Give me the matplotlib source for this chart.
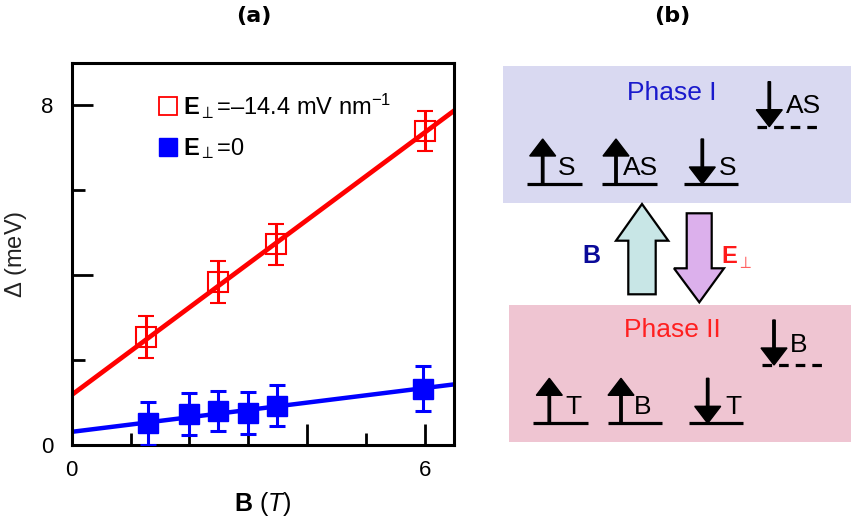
import numpy as np
import matplotlib
matplotlib.use('Agg')
import matplotlib.pyplot as plt
from matplotlib.lines import Line2D
from matplotlib.patches import Rectangle, Polygon

plt.rcParams['font.family'] = ['Liberation Sans', 'DejaVu Sans']
plt.rcParams['mathtext.fontset'] = 'custom'
plt.rcParams['mathtext.rm'] = 'Liberation Sans'
plt.rcParams['mathtext.bf'] = 'Liberation Sans:bold'
plt.rcParams['mathtext.it'] = 'Liberation Sans:italic'

# panel (a) data
red_B = [1.27, 2.49, 3.48, 6.0]
red_D = [2.55, 3.84, 4.73, 7.40]
red_err = [0.5, 0.5, 0.48, 0.48]
blue_B = [1.29, 1.99, 2.49, 3.0, 3.49, 5.98]
blue_D = [0.51, 0.73, 0.81, 0.76, 0.93, 1.33]
blue_err = [0.5, 0.5, 0.47, 0.5, 0.48, 0.53]
# linear fits (intercept, slope)
red_fit = (1.18, 1.03)
blue_fit = (0.31, 0.172)
B_fit = np.array([0, 6.5])

red = '#ff0000'
blue = '#0000ff'

fig = plt.figure(figsize=(8.51, 5.22), dpi=100)
W, H = 851, 522

ax = fig.add_axes([71.7/W, (H-445)/H, (454-71.7)/W, (445-63)/H])
ax.plot(B_fit, red_fit[0] + red_fit[1]*B_fit, color=red, lw=3.4, zorder=2)
ax.plot(B_fit, blue_fit[0] + blue_fit[1]*B_fit, color=blue, lw=3.2, zorder=2)
ax.errorbar(red_B, red_D, yerr=red_err, fmt='s', ms=14, mfc='none', mec=red, mew=1.5,
            ecolor=red, elinewidth=2.2, capsize=6, capthick=2.2, zorder=3)
ax.errorbar(blue_B, blue_D, yerr=blue_err, fmt='s', ms=15, mfc=blue, mec=blue,
            ecolor=blue, elinewidth=2.2, capsize=6, capthick=2.2, zorder=3)
ax.set_xlim(0, 6.5)
ax.set_ylim(0, 9)
ax.set_xticks([0, 4, 6])
ax.set_xticklabels(['0', '', '6'])
ax.set_xticks([1, 2, 3, 5], minor=True)
ax.set_yticks([0, 4, 8])
ax.set_yticklabels(['0', '', '8'])
ax.set_yticks([2, 6], minor=True)
ax.tick_params(which='both', direction='in', width=2, labelsize=16)
ax.tick_params(which='major', length=15)
ax.tick_params(which='minor', length=9)
ax.tick_params(axis='y', pad=13)
ax.tick_params(axis='x', pad=11)
for s in ax.spines.values():
    s.set_linewidth(2.2)
ax.set_xlabel(r'$\mathbf{B}$ ($\mathit{T}$)', fontsize=18, labelpad=6)
ax.set_ylabel(r'$\mathit{\Delta}$ (meV)', fontsize=17, labelpad=9, color='#222222')

h1 = Line2D([], [], ls='none', marker='s', ms=13, mfc='none', mec=red, mew=1.3)
h2 = Line2D([], [], ls='none', marker='s', ms=13, mfc=blue, mec=blue)
ax.legend([h1, h2], [r'$\mathbf{E}_{\perp}$=–14.4 mV nm$^{-1}$', r'$\mathbf{E}_{\perp}$=0'],
          loc='upper left', bbox_to_anchor=(0.23, 0.925), frameon=False, fontsize=17,
          handlelength=0.7, handletextpad=0.3, labelspacing=0.65, borderpad=0, borderaxespad=0)

fig.text(254/W, 1-16/H, '(a)', fontsize=16, fontweight='bold', ha='center', va='center',
         family='DejaVu Sans')
fig.text(672/W, 1-16/H, '(b)', fontsize=16, fontweight='bold', ha='center', va='center',
         family='DejaVu Sans')

# panel (b) schematic, in pixel units
bx = fig.add_axes([490/W, 0, (W-490)/W, 1])
bx.set_xlim(490, W)
bx.set_ylim(H, 0)
bx.axis('off')

bx.add_patch(Rectangle((503, 66), 348, 137, color='#d9d9f1', lw=0))
bx.add_patch(Rectangle((509, 305), 342, 137, color='#efc5d2', lw=0))

bx.text(672, 100, 'Phase I', color='#1a1acc', fontsize=19, ha='center', va='baseline')
bx.text(672, 337, 'Phase II', color='#ff2020', fontsize=19, ha='center', va='baseline')


def level(x0, x1, y, ax_x, up, label, lx, ly, dashed=False):
    bx.plot([x0, x1], [y, y], color='k', lw=2.3, ls=(0, (3, 2.2)) if dashed else '-',
            solid_capstyle='butt')
    if up:
        bx.arrow(ax_x, y, 0, -45, width=2.4, head_width=26, head_length=17,
                 length_includes_head=True, fc='k', ec='k')
    else:
        bx.arrow(ax_x, y - 45, 0, 45, width=2.4, head_width=26, head_length=17,
                 length_includes_head=True, fc='k', ec='k')
    bx.text(lx, ly, label, fontsize=19, ha='left', va='baseline')


# Phase I levels
level(527, 582, 184, 542.7, True, 'S', 558, 175)
level(602, 657, 184, 616, True, 'AS', 623, 175)
level(684, 738, 184, 702.3, False, 'S', 719, 175)
level(757, 823, 126.7, 769.3, False, 'AS', 786, 112.7, dashed=True)
# Phase II levels
level(533, 588, 423.3, 549.3, True, 'T', 565, 414.3)
level(608, 662, 423.3, 621, True, 'B', 634, 414.3)
level(689, 743, 423.3, 707.7, False, 'T', 725, 414.3)
level(762, 828, 365, 774, False, 'B', 790, 351.7, dashed=True)

up_arrow = [(628.3, 294.3), (655.7, 294.3), (655.7, 240.7), (668.3, 240.7),
            (642, 204), (616, 240.7), (628.3, 240.7)]
down_arrow = [(686.7, 213.3), (711.7, 213.3), (711.7, 268.3), (724, 268.3),
              (699.3, 302.3), (674, 268.3), (686.7, 268.3)]
bx.add_patch(Polygon(up_arrow, closed=True, fc='#c8e6e6', ec='k', lw=1.6))
bx.add_patch(Polygon(down_arrow, closed=True, fc='#dcb0ec', ec='k', lw=1.6))

bx.text(591.7, 262.7, 'B', color='#0a0a99', fontsize=18, fontweight='bold', ha='center', va='baseline')
bx.text(721, 262.7, r'$\mathbf{E}$', color='#ff1a1a', fontsize=17, ha='left', va='baseline')
bx.text(737, 268, r'$\perp$', color='#ff6060', fontsize=12, ha='left', va='baseline')

fig.savefig('out.png', dpi=100)
